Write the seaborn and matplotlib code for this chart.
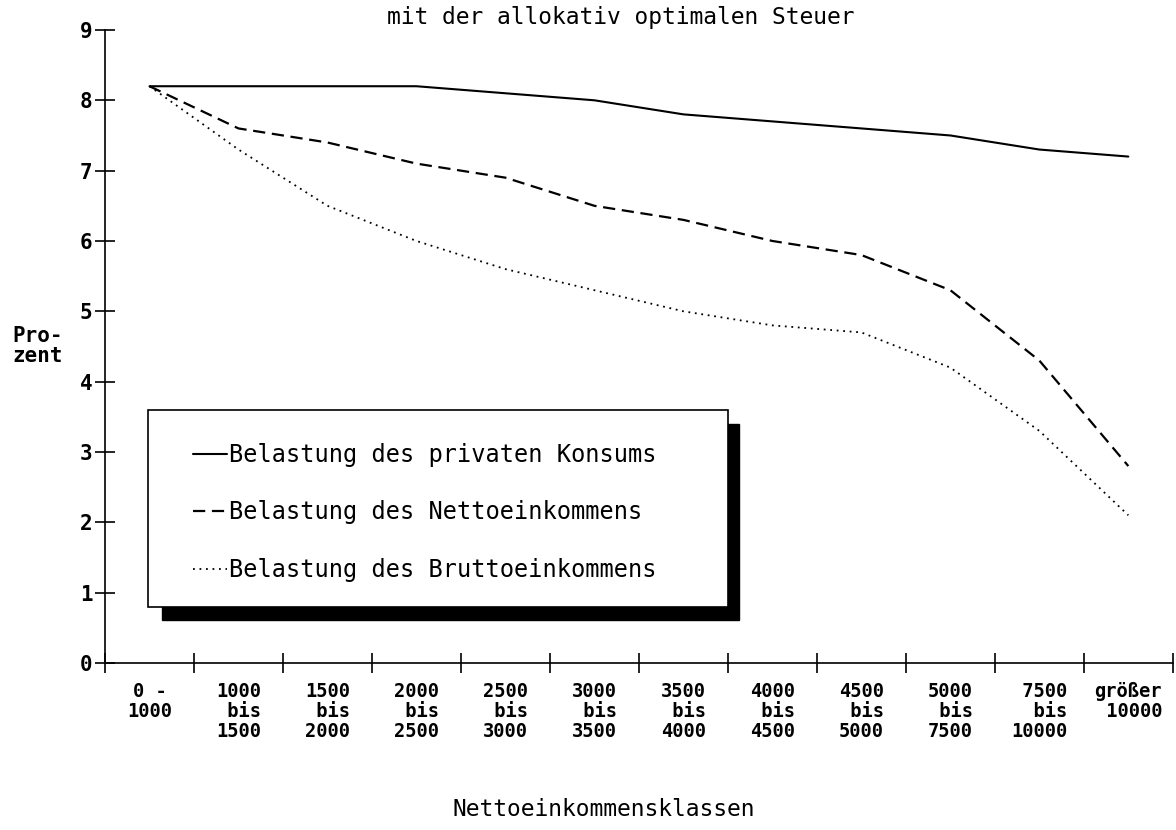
import pandas as pd
import seaborn as sns
import matplotlib.pyplot as plt
from matplotlib.lines import Line2D
from matplotlib.patches import Rectangle

klassen = ["0 -\n1000", "1000\n bis\n1500", "1500\n bis\n2000", "2000\n bis\n2500",
           "2500\n bis\n3000", "3000\n bis\n3500", "3500\n bis\n4000", "4000\n bis\n4500",
           "4500\n bis\n5000", "5000\n bis\n7500", " 7500\n  bis\n10000", "größer\n 10000"]
konsum = [8.2, 8.2, 8.2, 8.2, 8.1, 8.0, 7.8, 7.7, 7.6, 7.5, 7.3, 7.2]
netto = [8.2, 7.6, 7.4, 7.1, 6.9, 6.5, 6.3, 6.0, 5.8, 5.3, 4.3, 2.8]
brutto = [8.2, 7.3, 6.5, 6.0, 5.6, 5.3, 5.0, 4.8, 4.7, 4.2, 3.3, 2.1]
namen = ["Belastung des privaten Konsums",
         "Belastung des Nettoeinkommens",
         "Belastung des Bruttoeinkommens"]

df = pd.DataFrame({"pos": range(len(klassen)), "konsum": konsum,
                   "netto": netto, "brutto": brutto})

sns.set_theme(style="white", rc={"text.color": "black", "axes.labelcolor": "black",
                                 "xtick.color": "black", "ytick.color": "black"})
plt.rcParams["font.family"] = ["DejaVu Sans Mono", "DejaVu Sans"]

fig = plt.figure(figsize=(11.76, 8.3), dpi=100)
ax = fig.add_axes([0.0893, 0.2012, 0.908, 0.7627])

stile = {"konsum": "-", "netto": (0, (5.5, 3)), "brutto": (0, (1, 2.6))}
breiten = {"konsum": 1.5, "netto": 1.6, "brutto": 1.3}
for col in ["konsum", "netto", "brutto"]:
    sns.lineplot(data=df, x="pos", y=col, ax=ax, color="black",
                 linestyle=stile[col], linewidth=breiten[col])

ax.set_xlim(-0.5, len(klassen) - 0.5)
ax.set_ylim(0, 9)
ax.set_yticks(range(10))
ax.set_yticklabels([str(i) for i in range(10)], fontsize=15, fontweight="bold")
ax.set_xticks(range(len(klassen)))
ax.set_xticklabels(klassen, fontsize=13.5, fontweight="bold", linespacing=1.05)
ax.set_xticks([i - 0.5 for i in range(len(klassen) + 1)], minor=True)
ax.tick_params(axis="x", which="major", bottom=True, length=0, pad=14)
ax.tick_params(axis="x", which="minor", bottom=True, direction="inout",
               length=14, width=1.2, color="black")
ax.tick_params(axis="y", left=True, direction="inout", length=14, width=1.2,
               color="black", pad=2)

for s in ["top", "right"]:
    ax.spines[s].set_visible(False)
for s in ["left", "bottom"]:
    ax.spines[s].set_color("black")
    ax.spines[s].set_linewidth(1.2)

ax.set_xlabel("Nettoeinkommensklassen", fontsize=16.5, va="center")
ax.xaxis.set_label_coords(0.467, -0.232)
ax.set_ylabel("Pro-\nzent", fontsize=15, fontweight="bold", rotation=0,
              ha="center", va="center", linespacing=1.0)
ax.yaxis.set_label_coords(-0.063, 0.50)

fig.text(0.528, 0.993, "mit der allokativ optimalen Steuer", fontsize=16.5,
         ha="center", va="top")

# legend box with solid shadow
ax.add_patch(Rectangle((0.053, 0.068), 0.541, 0.31, transform=ax.transAxes,
                       facecolor="black", edgecolor="black", zorder=4))
ax.add_patch(Rectangle((0.040, 0.0885), 0.543, 0.3115, transform=ax.transAxes,
                       facecolor="white", edgecolor="black", linewidth=1.2, zorder=5))
handles = [Line2D([], [], color="black", linestyle=stile[c], linewidth=breiten[c])
           for c in ["konsum", "netto", "brutto"]]
leg = ax.legend(handles, namen, loc="center left", bbox_to_anchor=(0.071, 0.238),
                frameon=False, fontsize=17, handlelength=1.45, handletextpad=0.1,
                labelspacing=1.42, borderpad=0)
leg.set_zorder(6)

plt.savefig("out.png", dpi=100)
